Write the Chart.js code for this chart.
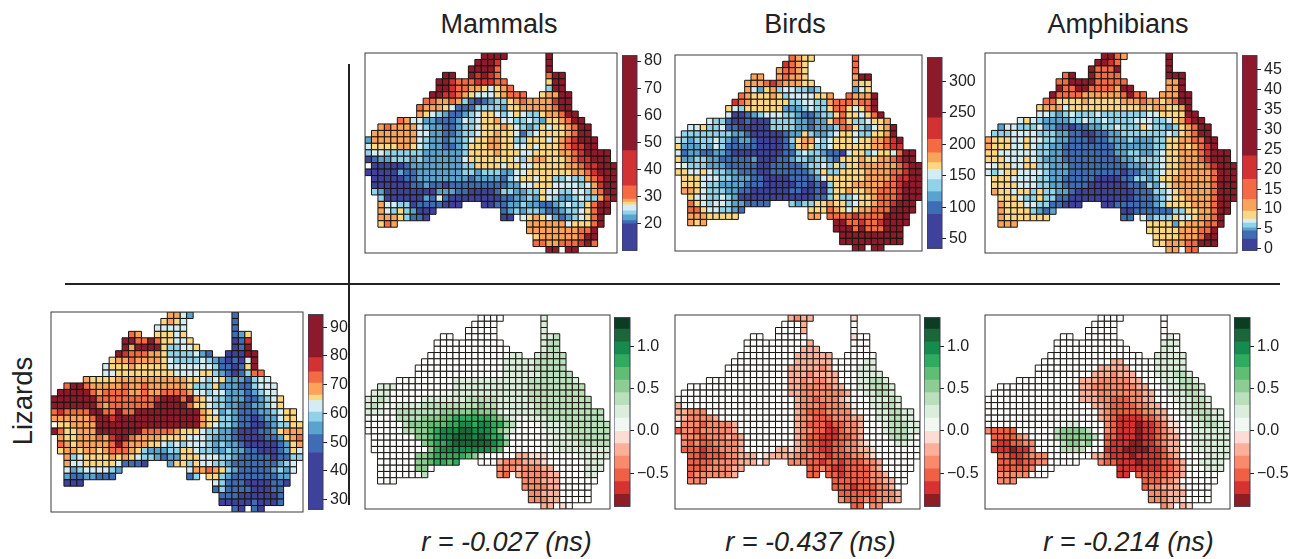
<!DOCTYPE html>
<html>
<head>
<meta charset="utf-8">
<style>
html,body{margin:0;padding:0;background:#fff;width:1298px;height:559px;overflow:hidden}
body{position:relative;font-family:"Liberation Sans",Arial,sans-serif;color:#222}
canvas{position:absolute;display:block}
.t{position:absolute;white-space:nowrap;line-height:1;transform:translate(-50%,-50%)}
.r{font-style:italic}
.l{position:absolute;background:#222}
</style>
<script src="https://cdn.jsdelivr.net/npm/chart.js@4"></script>
</head>
<body>
<div class="t" style="left:499px;top:24px;font-size:27px">Mammals</div>
<div class="t" style="left:795px;top:24px;font-size:27px">Birds</div>
<div class="t" style="left:1118px;top:24px;font-size:27px">Amphibians</div>
<div class="t" style="left:23px;top:401px;font-size:27.5px;transform:translate(-50%,-50%) rotate(-90deg)">Lizards</div>
<div class="t r" style="left:506.5px;top:542px;font-size:27px">r = -0.027 (ns)</div>
<div class="t r" style="left:810.5px;top:542px;font-size:27px">r = -0.437 (ns)</div>
<div class="t r" style="left:1128.5px;top:542px;font-size:27px">r = -0.214 (ns)</div>
<div class="l" style="left:65px;top:283px;width:1215px;height:2px"></div>
<div class="l" style="left:348px;top:64px;width:2px;height:441px"></div>
<script>
// Land cells on a 39 x 31 grid: for each row, the [first,last] column runs.
const landRuns = [
[[18,21],[28,28]],[[17,20],[28,28]],[[16,20],[28,28]],[[12,13],[16,20],[28,30]],
[[11,21],[28,30]],[[11,22],[28,30]],[[10,24],[27,31]],[[9,31]],[[8,31]],[[8,32]],
[[5,33]],[[2,34]],[[1,34]],[[0,35]],[[0,35]],[[0,37]],[[0,37]],[[0,38]],[[0,38]],
[[1,38]],[[1,38]],[[1,38]],[[2,38]],[[2,14],[18,37]],[[2,10],[21,37]],
[[2,9],[21,22],[24,36]],[[2,4],[25,36]],[[25,35]],[[26,35]],[[26,35]],[[28,29],[31,32]]
];

// Colour-class breaks.
const mammalBreaks = [10.2,20,21.2,23.3,24.8,27,28,29.1,34,47,82];
const birdBreaks = [34.5,88.7,109,125,144,160,171,186.6,208,242,338];
const amphibianBreaks = [-0.4,2.45,4.5,5.3,6.5,7.5,9.5,12.4,17.5,23.4,48.6];
const lizardBreaks = [26.6,46.4,52.6,57.1,60.5,64.5,66.4,70.6,74.5,79.4,94.4];
const effectBreaks = [-0.893,-0.75,-0.6,-0.45,-0.3,-0.15,0,0.15,0.3,0.45,0.6,0.75,0.9,1.05,1.2,1.337];

const richnessColors = ["#3F429B","#3E6DB6","#5BA3CF","#90D3E8","#D4ECF4","#FBD781","#FAA45B","#F46A43","#D23232","#8D1A2A"];
const effectColors = ["#8D1F24","#D63232","#EF6045","#F98B6C","#FBB09A","#FDDDD3","#F1F8F1","#DBEEDC","#B9DFBB","#8DCC92","#60BD74","#2FAB60","#158B4E","#1C6739","#0A3D22"];

const mammalTicks = [20,30,40,50,60,70,80];
const birdTicks = [50,100,150,200,250,300];
const amphibianTicks = [0,5,10,15,20,25,30,35,40,45];
const lizardTicks = [30,40,50,60,70,80,90];
const effectTicks = [-0.5,0,0.5,1];

// Per-cell colour class, row by row. Digits index richness classes, letters index
// effect classes (a = lowest), "." is a white cell.
const mammalCells = [
"99999","99989","999979","9998987799","99877788877599","998776654567399","99887654445677756699",
"77667631012335676666899","766654111333325566666799","6543211234554345433566799",
"76442211124345564433432556799","676666432211233455565432354556799",
"6666666442211233455655413455556799","266666664322122345566553355545678999",
"455556654322112355566554454555678899","34433333322222235555655544555566789999",
"01223332322222245555555435665556788999",".00000122222222335555455445555566788999",
"000002112222222332333224455555556678999","00000112222222212222134554553343367899",
"00000011211011111111122445554444346899","32000000002221100001332233544334436799",
"3000000214100000000112232543223433689","644330111100000112232211234335799",
"64353200012323321123345799","66653110004565421234579","576666666455579",
"66666666779","5666666799","7766777897","9999"];

const birdCells = [
"76557","87657","677657","6667665699","66678766655655","642563443323245","76555653444455676669",
"87655555533443367776779","543555555222343357754579","4001234443321123357554579",
"43310010003333221225775334556","445334110000033332212223775324569",
"3333333322100000122532234554335569","432333432122100001356643455545566789",
"522232431111100001256533455555566788","41221122100000000113433211045534554799",
"52233221111120001123323321555655667899",".43332221111100111112334353556666667899",
"554454332211100111111235335555666677899","55544433222110000111124555555666678899",
"55543322221110000011010355566666778999","66543332211000000110010355655667778999",
"5443343200000000000011353345567778999","754344322111132335565534556778999",
"77544332155576545667779999","66655555667777877779999","656997787789999",
"99979777999","9999999999","9999999999","9999"];

const amphibianCells = [
"99769","99879","977799","7997777999","77999977777669","977997777699669","97777666666797766699",
"77555565555566676656799","566645555555555565665569","4432343334333333344555599",
"45432222334334333344433456899","244333422110112233433354332356799",
"3334444333221100112233333334356799","655544544332211101122232223355667799",
"655544543322111111112222223355656789","55444444332211111111223322345566678999",
"55544454322211111111122333345566678999",".45544553322211111111122233455666678999",
"434554444322211111111011223455666667999","55544443322111110000113323556666667999",
"55554443322111100000011132456666667999","65545535332210000000001113345666667999",
"5554335331100000000001112345566667999","655544331100000111111235555666799",
"65555321200111111335566799","65555555114233354456679","666555525666779",
"55555666779","5555666799","5566677999","6677"];

const lizardCells = [
"66421","56541","444441","7655545125","99779755445018","969999533445019","98777665333342100099",
"56676666543333432101049","455565555544444443110159","4455555555544445532101377",
"65555666666666665543452221344","799766666766766666653335222113444",
"9999976777766766777764434422212344","999999977777777789997965433222112345",
"999999976777777799999755433221122345","78777799779779999999999654232111223455",
"66666679989999999999999655332110122455",".55666699999999999999996543321100123355",
"975566699999997777765554332210001125666","65566676899766665555444322210000112567",
"76566666797666554343444323221000001256","56656656777653222335543322322110001254",
"6345555656543321225554443321111101133","644555554111025535443321111111234",
"42344443246676532111112324","2112211113"+"5532111111122","000431110000110",
"13111100011","1110000001","0000010001","1010"];

const mammalEffect = [
"....h","....h",".....h",".......hhi","...........hii","............hii",
"............ghh"+"hiiii",".............hhhhhiiiii","..............hhhhhiiiii",
"..............hhhhhhiiiii",".........hhhhhhhhhhhhiiiiiiih",
"hhh.........hhhhhhhhhhhhiiiiiiiii","hhh........gghhhhhhhhhhhhiiiiiiiii",
"hhih.....hhhhhhhiiiiihhhhhiiiiiiiiii",
"hihg"+"g"+"hhhh"+"iiiiii"+"iiijii"+"hhhhhh"+"iiiiiiiii",
"hhhgg"+"iiiii"+"iijjjj"+"jkj"+"jjh"+"ghh"+"hhiiiiiiiiiii",
"g...."+"iiiij"+"jjkkl"+"lllllk"+"jih"+"gghh"+"hiiiiiiiii",
"......"+"ijj"+"jk"+"kkl"+"lmmlmml"+"l"+"jig"+"..g"+"hhhhiiiiiii",
"......"+"iijj"+"klmmmnnmmml"+"j"+"ih."+"...g"+"hhhiiiiiii",
"....."+".g"+"jj"+"k"+"lmmnn"+"nmnml"+"l"+"i"+"....."+"gghhhiiiiii",
"......"+".."+"j"+"kll"+"mnnnnnnm"+"l"+"j"+"......"+"hhhhhiiiii",
"......."+".."+"j"+"lmm"+"mmmmmm"+"l"+"k"+"."+"......."+"hhhhhhhhh",
"......"+"jjklllll"+"kjh"+"....."+"eefff"+".....hhhhh",
"......jjkllkl"+"..."+"edddeee"+"f"+"......"+"hhh",
"......jj."+"dddedddee"+"....."+"hhh",
".......i"+"dc"+"eddddee"+"...."+"hh",
"..."+"dddeee"+"......",
"ddddee.....","ddeee.....","dddee.....","eef."];

const birdEffect = [
"edeef","...e.","....e.",".......f...","..........e...",".........eee...",
".........eeeeee.....",
"..........eeeeee.....hh","..........eeeeede....hhh","..........eeedeeee...hhhh",
".............eededdee...hhiih","................eedddddee..hhiiih",
".................eeddddddde..hhiih","...................eddcdddef...hhhih",
"e.................."+"edddcddde"+"g.."+"hhiih",
"eeddd.............."+"edcccddddf"+"..."+"hhiihh",
"fedddde............"+"eddcccdddee"+".."+"hhiihh",
".dddcddd"+"de"+"........."+"edcccbccdde"+"..."+"hiiihh",
"cddcddddd"+"e"+"........."+"eddccbbcdde"+"..."+"hiiihh",
"dddcddded"+"e"+"........"+"edccbbbccde"+"...."+"iiih"+".",
"dcdccdddde"+"........"+"edccbbccddef"+"...."+"hhg"+".",
"cccbccddde"+"....."+"eef"+"edccbbccddeef"+".......",
"ccbcccddee"+"e."+"f"+"eeee"+"dcdccbcccddef"+".......",
"ccccddddeee.e"+"ddd"+"ccbccbcccdde"+".....",
"cccddddee"+"ccdcbbccccde"+".....",
"cdddddde"+"cc"+"ccbccccdde"+"...",
"ddd"+"ccccccddee"+"..",
"cccbcccdde.","ccccccddde","dcccdcddde","ccdd"];

const amphibianEffect = [
".....",".....","......",".......".concat(".h."),"...........hhh","............hhg",
"...............hhhhh",
"..........."+"ee"+"....."+"hhhhh",
".........."+"eeeee"+"...."+"hhhhh",
"........."+"eeedeee"+"..."+"hhhiih",
".........."+"eeedddddee"+"..."+"hhhiih",
"............."+"eedddddddee"+"..."+"hhiiih",
".............."+"eeedddddddee"+".."+"hhhiih",
"..............."+"eeeddcccddee"+"..."+"hhhiih",
"................."+"eedccccddee"+"..."+"hhiih",
".................."+"edcccccdde"+"e.."+"hhiiihh",
".................."+"edcbbbbccde"+"f.."+"hhiihh",
"............"+"ghh"+"...."+"dcbbbabbcdf"+"f.."+"hhiihh",
"dcccc"+"."+"....."+"ijjjji"+".."+"dcbbbabbcde"+"f.."+"hhhhhh",
"ccccd"+"e"+"...."+"ijjjjj"+"i"+"."+"ccbbbabbcd"+"ee."+".hhhhhh",
"cbbccd"+"d"+"...."+"ijjij"+".."+"cbbbaabbcde"+"e.."+"hhhhhh",
"bbbabbd"+"...."+"iiii"+"..."+"bbbaaaabbce"+"e.."+"hhhhhh",
"ccbbcddd"+"......."+"ee"+"cbbbabbbbcde"+".."+"..hhhh",
"cccbccdd....."+"dcc"+"bbbabbbccde"+".."+"hhhh",
"cccccd..."+"bbbbbbbccde"+"..."+"hhh",
"ddddd..."+"bb"+"cccccdde"+".....",
"ddd"+"cccdde"+"......",
"cddeeef....","dddeee....","dddeef....","deef"];

const digits = "0123456789", letters = "abcdefghijklmno";

function decodeCells(rows, breaks, colors, symbols) {
  const points = [], fills = [];
  rows.forEach((text, row) => {
    let k = 0;
    landRuns[row].forEach(([first, last]) => {
      for (let col = first; col <= last; col++, k++) {
        const i = symbols.indexOf(text[k] || ".");
        points.push({x: col, y: row, v: i < 0 ? null : (breaks[i] + breaks[i + 1]) / 2});
        fills.push(i < 0 ? "#ffffff" : colors[i]);
      }
    });
  });
  return {points, fills};
}

const framePlugin = {
  id: "frame",
  afterDatasetsDraw(chart, args, opts) {
    const a = chart.chartArea, c = chart.ctx;
    c.save();
    c.strokeStyle = opts.color;
    c.lineWidth = opts.width;
    c.strokeRect(a.left, a.top, a.right - a.left, a.bottom - a.top);
    c.restore();
  }
};

function addCanvas(left, top, width, height) {
  const cv = document.createElement("canvas");
  cv.width = width; cv.height = height;
  cv.style.left = left + "px"; cv.style.top = top + "px";
  cv.style.width = width + "px"; cv.style.height = height + "px";
  document.body.appendChild(cv);
  return cv;
}

function drawMap(box, rows, breaks, colors, symbols) {
  const {points, fills} = decodeCells(rows, breaks, colors, symbols);
  new Chart(addCanvas(box.x - 1, box.y - 1, box.w + 2, box.h + 2), {
    type: "scatter",
    data: {datasets: [{
      data: points,
      pointStyle: "rect",
      backgroundColor: fills,
      borderColor: "#17130f",
      borderWidth: 1,
      pointRadius: ctx => {
        const s = ctx.chart.scales.x;
        return Math.abs(s.getPixelForValue(1) - s.getPixelForValue(0)) / Math.SQRT2;
      },
      pointHoverRadius: 0
    }]},
    options: {
      responsive: false, animation: false,
      layout: {padding: 1},
      plugins: {legend: {display: false}, tooltip: {enabled: false}, frame: {color: "#3a3a3a", width: 1}},
      scales: {
        x: {type: "linear", display: false, min: -0.5, max: 38.5},
        y: {type: "linear", display: false, min: -0.5, max: 30.5, reverse: true}
      }
    },
    plugins: [framePlugin]
  });
}

function tickText(decimals) {
  return v => {
    const s = Math.abs(v).toFixed(decimals);
    return v < 0 ? "\u2212" + s : s;
  };
}

function drawLegend(box, breaks, colors, ticks, decimals) {
  const pad = 10, axisWidth = 44;
  const datasets = colors.map((c, i) => ({data: [[breaks[i], breaks[i + 1]]], backgroundColor: c, borderWidth: 0}));
  new Chart(addCanvas(box.x, box.y - pad, box.w + axisWidth, box.h + 2 * pad), {
    type: "bar",
    data: {labels: [""], datasets},
    options: {
      responsive: false, animation: false,
      layout: {padding: {top: pad, bottom: pad, left: 0, right: 0}},
      datasets: {bar: {grouped: false, barPercentage: 1, categoryPercentage: 1}},
      plugins: {legend: {display: false}, tooltip: {enabled: false}, frame: {color: "#3a3a5a", width: 1}},
      scales: {
        x: {display: false},
        y: {
          position: "right",
          min: breaks[0], max: breaks[breaks.length - 1],
          afterFit: s => { s.width = axisWidth; },
          afterBuildTicks: s => { s.ticks = ticks.map(value => ({value})); },
          border: {display: false},
          grid: {drawOnChartArea: false, drawTicks: true, tickLength: 4, color: "#222"},
          ticks: {
            autoSkip: false, padding: 3, color: "#222",
            font: {family: "'Liberation Sans'", size: 16},
            callback: tickText(decimals)
          }
        }
      }
    },
    plugins: [framePlugin]
  });
}

drawMap({x: 365, y: 53, w: 252, h: 200}, mammalCells, mammalBreaks, richnessColors, digits);
drawLegend({x: 622, y: 53, w: 15, h: 200}, mammalBreaks, richnessColors, mammalTicks, 0);
drawMap({x: 675, y: 55, w: 247, h: 196}, birdCells, birdBreaks, richnessColors, digits);
drawLegend({x: 927, y: 55, w: 15, h: 196}, birdBreaks, richnessColors, birdTicks, 0);
drawMap({x: 985, y: 53, w: 252, h: 200}, amphibianCells, amphibianBreaks, richnessColors, digits);
drawLegend({x: 1242, y: 53, w: 15, h: 200}, amphibianBreaks, richnessColors, amphibianTicks, 0);
drawMap({x: 51, y: 312, w: 252, h: 200}, lizardCells, lizardBreaks, richnessColors, digits);
drawLegend({x: 308, y: 312, w: 15, h: 200}, lizardBreaks, richnessColors, lizardTicks, 0);

drawMap({x: 365, y: 315, w: 245, h: 194}, mammalEffect, effectBreaks, effectColors, letters);
drawLegend({x: 614, y: 315, w: 16, h: 194}, effectBreaks, effectColors, effectTicks, 1);
drawMap({x: 675, y: 315, w: 245, h: 194}, birdEffect, effectBreaks, effectColors, letters);
drawLegend({x: 924, y: 315, w: 16, h: 194}, effectBreaks, effectColors, effectTicks, 1);
drawMap({x: 985, y: 315, w: 245, h: 194}, amphibianEffect, effectBreaks, effectColors, letters);
drawLegend({x: 1234, y: 315, w: 16, h: 194}, effectBreaks, effectColors, effectTicks, 1);
</script>
</body>
</html>
